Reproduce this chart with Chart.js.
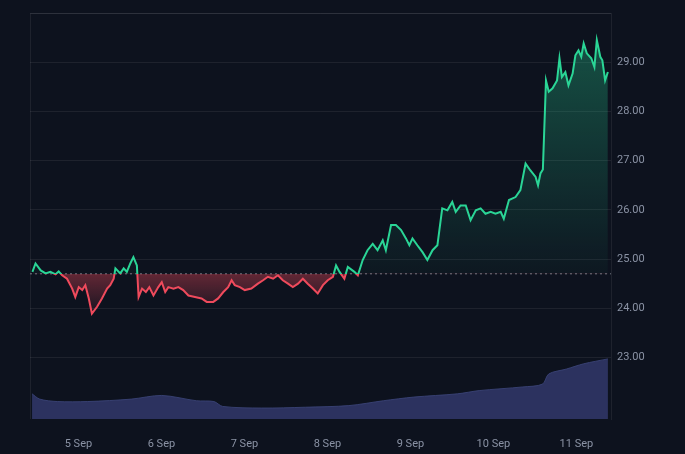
<!DOCTYPE html>
<html>
<head>
<meta charset="utf-8">
<script src="https://cdn.jsdelivr.net/npm/chart.js@4/dist/chart.umd.min.js"></script>
<style>
  html, body { margin: 0; padding: 0; background: #0d121e; }
  #wrap { width: 685px; height: 454px; position: relative; }
</style>
</head>
<body>
<div id="wrap"><canvas id="chart"></canvas></div>
<script>
// Hours counted from 5 Sep 00:00, prices
const priceHours = [
  -13.3, -12.4, -10.9, -9.5, -8.1, -6.6, -5.7, -4.7, -3.3, -1.8,
  -0.9, 0.1, 1.1, 2.0, 3.0, 3.9, 5.4, 6.8, 8.3, 9.2,
  10.2, 10.7, 12.1, 13.1, 14.0, 15.0, 15.9, 16.9, 17.4, 18.4,
  19.5, 20.5, 21.7, 23.1, 24.1, 25.1, 26.0, 27.5, 28.9, 30.3,
  31.8, 33.7, 35.6, 37.1, 39.0, 40.4, 41.9, 43.3, 44.3, 45.2,
  46.7, 48.1, 50.0, 51.9, 53.4, 54.8, 56.3, 57.7, 59.1, 60.6,
  62.0, 63.5, 64.9, 66.3, 67.8, 69.2, 70.7, 72.1, 73.6, 74.5,
  75.5, 76.9, 77.9, 79.8, 80.8, 82.2, 83.6, 85.1, 86.5, 88.0,
  88.9, 90.4, 91.8, 93.3, 94.7, 95.7, 96.6, 98.0, 99.5, 100.9,
  102.4, 103.8, 105.2, 106.7, 108.1, 109.1, 110.5, 112.0, 113.4, 114.9,
  116.3, 117.7, 119.2, 120.6, 122.1, 123.0, 124.5, 126.4, 127.8, 129.3,
  130.7, 132.2, 132.9, 133.6, 134.3, 135.2, 136.0, 137.1, 138.4, 139.1,
  139.8, 140.8, 141.7, 142.9, 143.7, 144.6, 145.4, 146.1, 147.0, 148.3,
  149.2, 149.9, 150.9, 151.5, 152.3, 153.1
];
const prices = [
  24.74, 24.91, 24.77, 24.71, 24.74, 24.69, 24.75, 24.67, 24.60, 24.40,
  24.23, 24.43, 24.37, 24.47, 24.20, 23.89, 24.03, 24.20, 24.40, 24.47,
  24.60, 24.81, 24.71, 24.81, 24.74, 24.91, 25.04, 24.87, 24.23, 24.40,
  24.33, 24.43, 24.26, 24.43, 24.53, 24.33, 24.43, 24.40, 24.43, 24.37,
  24.26, 24.23, 24.20, 24.13, 24.13, 24.20, 24.33, 24.43, 24.57, 24.47,
  24.43, 24.37, 24.40, 24.50, 24.57, 24.64, 24.60, 24.67, 24.57, 24.50,
  24.43, 24.50, 24.60, 24.50, 24.40, 24.30, 24.47, 24.57, 24.64, 24.87,
  24.74, 24.60, 24.84, 24.74, 24.67, 24.98, 25.18, 25.31, 25.18, 25.38,
  25.18, 25.69, 25.69, 25.59, 25.42, 25.28, 25.42, 25.28, 25.14, 24.98,
  25.18, 25.28, 26.03, 25.99, 26.16, 25.96, 26.09, 26.09, 25.79, 25.99,
  26.03, 25.92, 25.96, 25.92, 25.96, 25.82, 26.20, 26.26, 26.40, 26.94,
  26.80, 26.67, 26.50, 26.74, 26.82, 28.63, 28.40, 28.47, 28.63, 29.08,
  28.70, 28.80, 28.53, 28.77, 29.14, 29.24, 29.11, 29.38, 29.18, 29.08,
  28.90, 29.45, 29.11, 29.04, 28.63, 28.80
];
const baselinePrice = 24.7;

// Volume band at the bottom (millions)
const volumeHours = [
  -13.4, -11.2, -6.1, 2.7, 15.3, 24.1, 34.1, 39.2, 41.7, 53.0, 65.6,
  78.2, 88.2, 97.0, 109.6, 115.9, 128.5, 134.2, 136.0, 141.1, 146.1, 153.1
];
const volumes = [
  6.2, 4.9, 4.3, 4.3, 4.9, 5.8, 4.5, 4.3, 3.1, 2.7, 2.9,
  3.3, 4.5, 5.4, 6.2, 7.0, 7.9, 8.6, 11.1, 12.3, 13.6, 14.8
];

const dayTicks = [0, 24, 48, 72, 96, 120, 144];
const dayLabels = ['5 Sep', '6 Sep', '7 Sep', '8 Sep', '9 Sep', '10 Sep', '11 Sep'];
const priceTicks = [23, 24, 25, 26, 27, 28, 29, 30];

const upColor = '#2ad596';
const downColor = '#ef4a5c';

// Split a vertical gradient exactly at the baseline price
function splitAtBaseline(chart, topStyle, bottomStyle) {
  const { chartArea, scales } = chart;
  const yb = scales.y.getPixelForValue(baselinePrice);
  const t = Math.min(1, Math.max(0, (yb - chartArea.top) / (chartArea.bottom - chartArea.top)));
  const g = chart.ctx.createLinearGradient(0, chartArea.top, 0, chartArea.bottom);
  g.addColorStop(0, topStyle);
  g.addColorStop(t, topStyle);
  g.addColorStop(t, bottomStyle);
  g.addColorStop(1, bottomStyle);
  return g;
}

const frame = {
  id: 'frame',
  beforeDatasetsDraw(chart) {
    const { ctx, chartArea: a } = chart;
    ctx.save();
    ctx.strokeStyle = 'rgba(255,255,255,0.07)';
    ctx.lineWidth = 1;
    ctx.beginPath();
    ctx.moveTo(a.left + 0.5, a.bottom);
    ctx.lineTo(a.left + 0.5, a.top + 0.5);
    ctx.lineTo(a.right, a.top + 0.5);
    ctx.stroke();
    ctx.restore();
  }
};

new Chart(document.getElementById('chart'), {
  type: 'line',
  data: {
    datasets: [
      {
        label: 'Volume',
        data: volumeHours.map((h, i) => ({ x: h, y: volumes[i] })),
        yAxisID: 'yVol',
        borderColor: 'rgba(58,66,118,0.9)',
        borderWidth: 1,
        backgroundColor: 'rgba(46,53,99,0.95)',
        fill: 'origin',
        pointRadius: 0,
        tension: 0.3,
        order: 3
      },
      {
        label: 'Price',
        data: priceHours.map((h, i) => ({ x: h, y: prices[i] })),
        yAxisID: 'y',
        borderWidth: 2,
        pointRadius: 0,
        tension: 0,
        borderColor: ctx => ctx.chart.chartArea ? splitAtBaseline(ctx.chart, upColor, downColor) : upColor,
        fill: {
          target: { value: baselinePrice },
          above: ctx => {
            const { chart } = ctx;
            if (!chart.chartArea) return 'rgba(42,213,150,0.2)';
            const yTop = chart.scales.y.getPixelForValue(29.5);
            const yb = chart.scales.y.getPixelForValue(baselinePrice);
            const g = chart.ctx.createLinearGradient(0, yTop, 0, yb);
            g.addColorStop(0, 'rgba(42,213,150,0.32)');
            g.addColorStop(1, 'rgba(42,213,150,0.03)');
            return g;
          },
          below: ctx => {
            const { chart } = ctx;
            if (!chart.chartArea) return 'rgba(239,74,92,0.2)';
            const yb = chart.scales.y.getPixelForValue(baselinePrice);
            const yLow = chart.scales.y.getPixelForValue(23.9);
            const g = chart.ctx.createLinearGradient(0, yb, 0, yLow);
            g.addColorStop(0, 'rgba(239,74,92,0.38)');
            g.addColorStop(1, 'rgba(239,74,92,0.06)');
            return g;
          }
        },
        order: 1
      },
      {
        label: 'Baseline',
        data: [{ x: -14, y: baselinePrice }, { x: 154, y: baselinePrice }],
        yAxisID: 'y',
        borderColor: 'rgba(200,205,215,0.55)',
        borderWidth: 1,
        borderDash: [2, 3],
        pointRadius: 0,
        fill: false,
        order: 2
      }
    ]
  },
  options: {
    responsive: true,
    maintainAspectRatio: false,
    animation: false,
    layout: { padding: { left: 30, top: 13, right: 0, bottom: 0 } },
    plugins: {
      legend: { display: false },
      tooltip: { enabled: false }
    },
    scales: {
      x: {
        type: 'linear',
        min: -14,
        max: 154,
        afterBuildTicks: scale => { scale.ticks = dayTicks.map(v => ({ value: v })); },
        afterFit: scale => { scale.height = 35; },
        grid: { display: false },
        border: { display: false },
        ticks: {
          color: '#8b93a5',
          font: { family: 'Roboto', size: 11 },
          padding: 11,
          maxRotation: 0,
          callback: v => dayLabels[dayTicks.indexOf(v)] || ''
        }
      },
      y: {
        position: 'right',
        min: 21.75,
        max: 30,
        afterBuildTicks: scale => { scale.ticks = priceTicks.map(v => ({ value: v })); },
        afterFit: scale => { scale.width = 74; },
        grid: { color: 'rgba(255,255,255,0.07)', drawTicks: false },
        border: { display: true, color: 'rgba(255,255,255,0.07)' },
        ticks: {
          color: '#8b93a5',
          font: { family: 'Roboto', size: 11 },
          padding: 6,
          callback: v => (v >= 30 ? '' : v.toFixed(2))
        }
      },
      yVol: {
        display: false,
        min: 0,
        max: 100
      }
    }
  },
  plugins: [frame]
});
</script>
</body>
</html>
